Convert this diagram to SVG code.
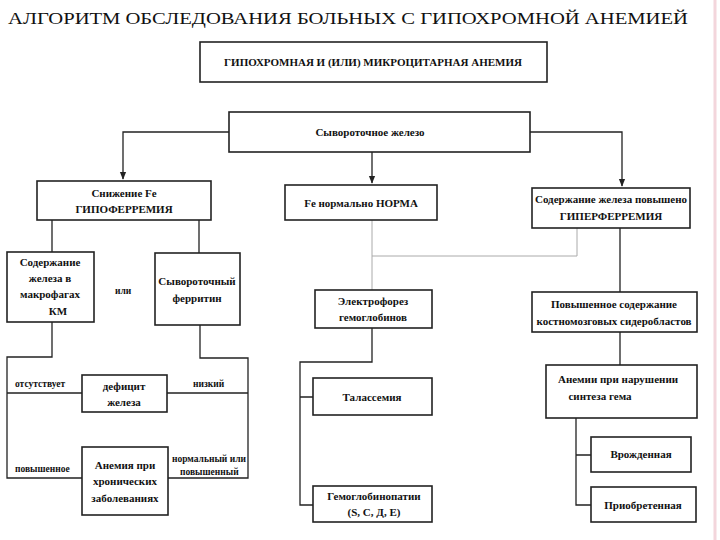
<svg xmlns="http://www.w3.org/2000/svg" width="720" height="540" viewBox="0 0 720 540">
<style>
.b{fill:#fff;stroke:#222;stroke-width:1.6}
.t{font-family:"Liberation Serif",serif;font-size:11px;fill:#111;text-anchor:middle;font-weight:bold}
.s{font-family:"Liberation Serif",serif;font-size:9.5px;fill:#111;font-weight:bold}
.c{fill:none;stroke:#222;stroke-width:1.3}
</style>
<defs><marker id="a" viewBox="0 0 10 10" refX="9" refY="5" markerWidth="6" markerHeight="6" orient="auto"><path d="M0,1 L10,5 L0,9 z" fill="#222"/></marker></defs>
<rect width="720" height="540" fill="#fff"/>
<line x1="715" y1="0" x2="715" y2="540" stroke="#f3d6dc" stroke-width="3"/>
<text x="8" y="24" font-family="Liberation Serif,serif" font-size="17.5" fill="#111" textLength="680" lengthAdjust="spacingAndGlyphs">АЛГОРИТМ ОБСЛЕДОВАНИЯ БОЛЬНЫХ С ГИПОХРОМНОЙ АНЕМИЕЙ</text>
<g id="connectors">
<path class="c" d="M229,132 H123 V179" marker-end="url(#a)"/>
<path class="c" d="M530,132 H622 V186" marker-end="url(#a)"/>
<path class="c" d="M372,152 V183" marker-end="url(#a)"/>
<path class="c" d="M52,220 V252 M199,220 V253"/>
<path class="c" d="M52,322 V357 H7 V478 H82 M7,393 H82"/>
<path class="c" d="M200,325 V358 H248 V478 H168 M167,393 H248"/>
<path fill="none" stroke="#aaa" stroke-width="1" d="M372,220 V256 H577 V228 M372,256 V290"/>
<path class="c" d="M372,328 V362 H300 V505 H313 M300,397 H313"/>
<path class="c" d="M620,228 V292 M620,332 V365"/>
<path class="c" d="M576,418 V505 H591 M576,455 H591"/>
</g>
<g id="n1"><rect class="b" x="200" y="42" width="347" height="40"/><text class="t" x="373" y="66">ГИПОХРОМНАЯ И (ИЛИ) МИКРОЦИТАРНАЯ АНЕМИЯ</text></g>
<g id="n2"><rect class="b" x="229" y="112" width="301" height="40"/><text class="t" x="370" y="136">Сывороточное железо</text></g>
<g id="n3"><rect class="b" x="37" y="181" width="174" height="39"/><text class="t" x="124" y="197">Снижение Fe</text><text class="t" x="124" y="213">ГИПОФЕРРЕМИЯ</text></g>
<g id="n4"><rect class="b" x="285" y="185" width="152" height="35"/><text class="t" x="361" y="207">Fe нормально НОРМА</text></g>
<g id="n5"><rect class="b" x="532" y="188" width="158" height="40"/><text class="t" x="611" y="203">Содержание железа повышено</text><text class="t" x="611" y="220">ГИПЕРФЕРРЕМИЯ</text></g>
<g id="n6"><rect class="b" x="7" y="252" width="87" height="70"/><text class="t" x="50" y="266">Содержание</text><text class="t" x="50" y="282">железа в</text><text class="t" x="50" y="298">макрофагах</text><text class="t" x="58" y="315">КМ</text></g>
<text class="s" x="115" y="294">или</text>
<g id="n7"><rect class="b" x="155" y="253" width="85" height="72"/><text class="t" x="197" y="285">Сывороточный</text><text class="t" x="197" y="302">ферритин</text></g>
<g id="n8"><rect class="b" x="82" y="375" width="85" height="37"/><text class="t" x="124" y="390">дефицит</text><text class="t" x="124" y="406">железа</text></g>
<g id="n9"><rect class="b" x="82" y="447" width="86" height="68"/><text class="t" x="125" y="469">Анемия при</text><text class="t" x="125" y="485">хронических</text><text class="t" x="125" y="502">заболеваниях</text></g>
<text class="s" x="15" y="387">отсутствует</text>
<text class="s" x="193" y="387">низкий</text>
<text class="s" x="15" y="472">повышенное</text>
<text class="s" x="172" y="462">нормальный или</text>
<text class="s" x="180" y="475">повышенный</text>
<g id="n10"><rect class="b" x="315" y="290" width="117" height="38"/><text class="t" x="373" y="305">Электрофорез</text><text class="t" x="373" y="321">гемоглобинов</text></g>
<g id="n11"><rect class="b" x="313" y="378" width="119" height="37"/><text class="t" x="372" y="401">Талассемия</text></g>
<g id="n12"><rect class="b" x="313" y="486" width="119" height="36"/><text class="t" x="374" y="500">Гемоглобинопатии</text><text class="t" x="374" y="516">(S, C, Д, E)</text></g>
<g id="n13"><rect class="b" x="532" y="292" width="165" height="40"/><text class="t" x="614" y="308">Повышенное содержание</text><text class="t" x="614" y="325">костномозговых сидеробластов</text></g>
<g id="n14"><rect class="b" x="546" y="365" width="151" height="53"/><text class="t" x="618" y="383">Анемии при нарушении</text><text class="t" x="600" y="400">синтеза гема</text></g>
<g id="n15"><rect class="b" x="591" y="437" width="100" height="35"/><text class="t" x="641" y="458">Врожденная</text></g>
<g id="n16"><rect class="b" x="591" y="487" width="105" height="35"/><text class="t" x="643" y="509">Приобретенная</text></g>
</svg>
